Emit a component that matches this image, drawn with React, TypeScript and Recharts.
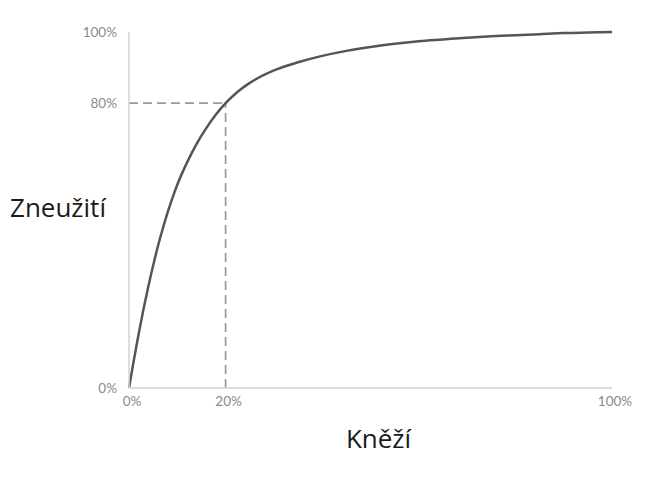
import React from 'react';
import { LineChart, Line, XAxis, YAxis, ReferenceLine, Label } from 'recharts';

const priestShare = [0, 1, 2, 3, 4, 5, 6, 7, 8, 9, 10, 12, 14, 16, 18, 20, 22.5, 25, 30, 35, 40, 45, 50, 55, 60, 65, 70, 75, 80, 85, 90, 95, 100];
const abuseShare = [0, 7.8, 15.2, 22.1, 28.5, 34.4, 39.9, 44.8, 49.3, 53.4, 57.1, 63.3, 68.6, 73.0, 76.8, 80.0, 83.2, 85.7, 89.2, 91.5, 93.3, 94.7, 95.8, 96.7, 97.4, 97.9, 98.4, 98.8, 99.1, 99.4, 99.7, 99.86, 100];

const xTicks = [0, 20, 100];
const yTicks = [0, 80, 100];
const markerX = 20;
const markerY = 80;

const xTitle = 'Kněží';
const yTitle = 'Zneužití';

const data = priestShare.map((x, i) => ({ x, y: abuseShare[i] }));

const tickStyle = { fill: '#8a8a8a', fontSize: 13.5, fontFamily: 'Lato, "Open Sans", sans-serif' };

export default function App() {
  return (
    <LineChart
      width={652}
      height={469}
      data={data}
      margin={{ top: 24, right: 48, bottom: 59, left: 0 }}
    >
      <XAxis
        dataKey="x"
        type="number"
        domain={[0, 100]}
        ticks={xTicks}
        tickFormatter={(v) => `${v}%`}
        tickLine={false}
        axisLine={{ stroke: '#d2d2d2', strokeWidth: 1.5 }}
        tick={{ ...tickStyle, dx: 3 }}
        height={30}
        interval={0}
      >
        <Label
          value={xTitle}
          position="bottom"
          offset={12}
          dx={8}
          style={{ fill: '#1a1a1a', fontSize: 26, fontFamily: '"Open Sans", sans-serif' }}
        />
      </XAxis>
      <YAxis
        type="number"
        domain={[0, 100]}
        ticks={yTicks}
        tickFormatter={(v) => `${v}%`}
        tickLine={false}
        tickMargin={6}
        axisLine={{ stroke: '#d2d2d2', strokeWidth: 1.5 }}
        tick={tickStyle}
        width={121}
        interval={0}
      >
        <Label
          value={yTitle}
          position="insideLeft"
          offset={2}
          dy={-2}
          style={{ fill: '#1a1a1a', fontSize: 26, fontFamily: '"Open Sans", sans-serif', textAnchor: 'start' }}
        />
      </YAxis>
      <ReferenceLine
        segment={[{ x: 0, y: markerY }, { x: markerX, y: markerY }]}
        stroke="#999999"
        strokeWidth={1.7}
        strokeDasharray="9 5"
      />
      <ReferenceLine
        segment={[{ x: markerX, y: 0 }, { x: markerX, y: markerY }]}
        stroke="#999999"
        strokeWidth={1.7}
        strokeDasharray="9 5"
      />
      <Line
        type="monotone"
        dataKey="y"
        stroke="#555555"
        strokeWidth={2.5}
        dot={false}
        isAnimationActive={false}
      />
    </LineChart>
  );
}
